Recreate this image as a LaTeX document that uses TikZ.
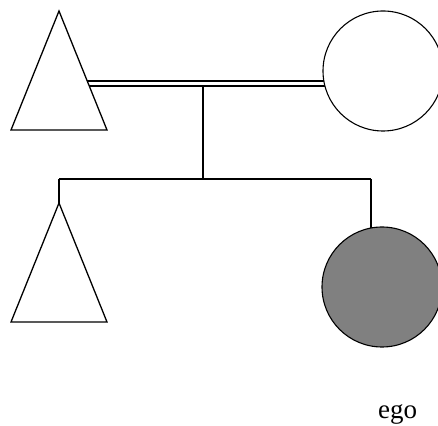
\documentclass[tikz,border=0pt]{standalone}
\usepackage{fontspec}
\setmainfont{Liberation Serif}
\usetikzlibrary{shapes.geometric,backgrounds}
\definecolor{egogray}{RGB}{128,128,128}
\begin{document}
\begin{tikzpicture}[x=1pt, y=1pt,
    male/.style={isosceles triangle, shape border rotate=90, isosceles triangle stretches, minimum width=96pt, minimum height=119pt, inner sep=0pt, outer sep=0pt, draw, line width=1.3pt, fill=white, anchor=apex},
    female/.style={circle, minimum size=120pt, inner sep=0pt, outer sep=0pt, draw, line width=1.1pt, fill=white}]
    \useasboundingbox (0, 0) rectangle (438, 425);
    \node (father) [male] at (59, 414) {};
    \node (mother) [female] at (383, 354) {};
    \node (brother) [male] at (59, 222) {};
    \node (ego) [female, fill=egogray] at (382, 138) {};
    \node (egolabel) [font=\fontsize{27}{32}\selectfont, anchor=base] at (397.5, 7) {ego};

    \coordinate (wed) at (203, 339);
    \coordinate (sibl) at (203, 246);
    \coordinate (sibr) at (371, 246);
    \coordinate (sibleft) at (59, 246);

    % Linien hinter den Symbolen
    \begin{scope}[on background layer]
    \draw[double, double distance=3.5pt, line width=1.5pt] (father.center |- 0, 341.5) -- (mother.center |- 0, 341.5);
    \draw[line width=1.2pt] (wed) -- (sibl);
    \draw[line width=1.2pt] (sibleft) -- (sibr);
    \draw[line width=1.2pt] (sibleft) -- (brother.apex);
    \draw[line width=1.2pt] (sibr) -- (sibr |- ego.center);
    \end{scope}
\end{tikzpicture}
\end{document}
